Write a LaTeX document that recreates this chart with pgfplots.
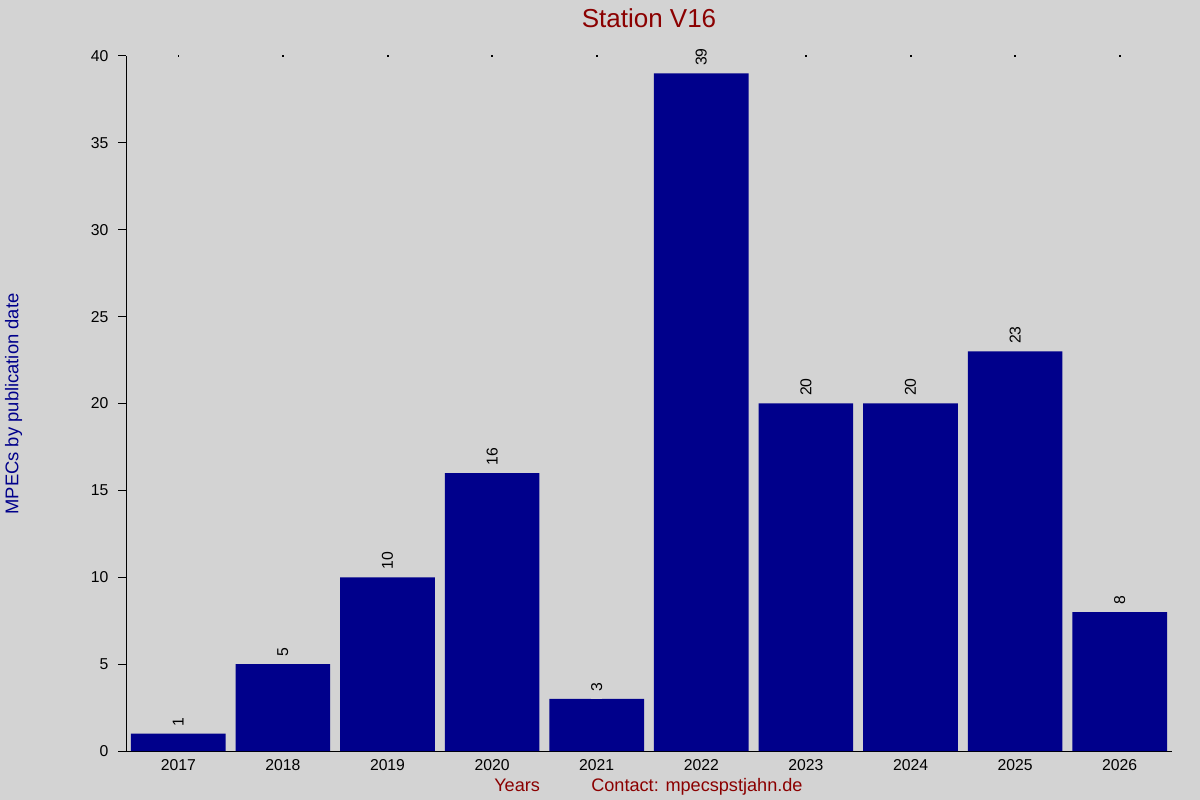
\documentclass[border=0pt]{standalone}
\usepackage{fontspec}
\setmainfont{Liberation Sans}
\usepackage{pgfplots}
\pgfplotsset{compat=1.18}

\definecolor{bgcol}{HTML}{D3D3D3}
\definecolor{barcol}{HTML}{00008B}
\definecolor{titlecol}{HTML}{8B0000}
\definecolor{labcol}{HTML}{00008B}

\begin{document}
\begin{tikzpicture}
% canvas 1200x800 px at 0.75pt per px
\fill[bgcol] (0,0) rectangle (900pt,600pt);

\begin{axis}[
    at={(94.5pt,36.75pt)}, anchor=south west,
    scale only axis,
    width=784.5pt, height=521.25pt,
    xmin=-0.5, xmax=9.5,
    ymin=0, ymax=40,
    axis x line*=bottom,
    axis y line*=left,
    axis line style={black, line width=0.75pt, -},
    xtick=data,
    xticklabels={2017,2018,2019,2020,2021,2022,2023,2024,2025,2026},
    xtick style={draw=none},
    ytick={0,5,...,40},
    ytick style={black, line width=0.75pt},
    tick align=outside,
    major tick length=6pt,
    /pgf/number format/assume math mode=true,
    tick label style={font=\fontsize{11.8}{13}\selectfont, black},
    xticklabel style={inner sep=0pt, anchor=north, yshift=-0.5pt},
    yticklabel style={inner sep=0pt, anchor=east, xshift=-7pt},
    clip=false,
]
% tiny dots along the top edge
\addplot[only marks, mark=square*, mark size=0.28pt, black]
  coordinates {
    (0,40) (1,40) (2,40) (3,40) (4,40)
    (5,40) (6,40) (7,40) (8,40) (9,40)
  };
\addplot[ybar, bar width=0.905, fill=barcol, draw=none,
    nodes near coords,
    every node near coord/.append style={rotate=90, anchor=west,
        inner xsep=5.5pt, inner ysep=0pt, black, fill=bgcol,
        font=\fontsize{11.8}{13}\selectfont}]
  coordinates {
    (0,1) (1,5) (2,10) (3,16) (4,3)
    (5,39) (6,20) (7,20) (8,23) (9,8)
  };
\end{axis}

\node[anchor=base, text=titlecol, font=\fontsize{19.5}{22}\selectfont, inner sep=0pt]
  at (486.75pt,579.5pt) {Station V16};
\node[anchor=base, rotate=90, text=labcol, font=\fontsize{13.8}{16}\selectfont, inner sep=0pt]
  at (13.7pt,297pt) {MPECs by publication date};
\node[anchor=base west, text=titlecol, font=\fontsize{13.6}{16}\selectfont, inner sep=0pt]
  at (370.5pt,6pt) {Years};
\node[anchor=base west, text=titlecol, font=\fontsize{13.6}{16}\selectfont, inner sep=0pt]
  at (443.25pt,6pt) {Contact: mpecspstjahn.de};
\end{tikzpicture}
\end{document}
